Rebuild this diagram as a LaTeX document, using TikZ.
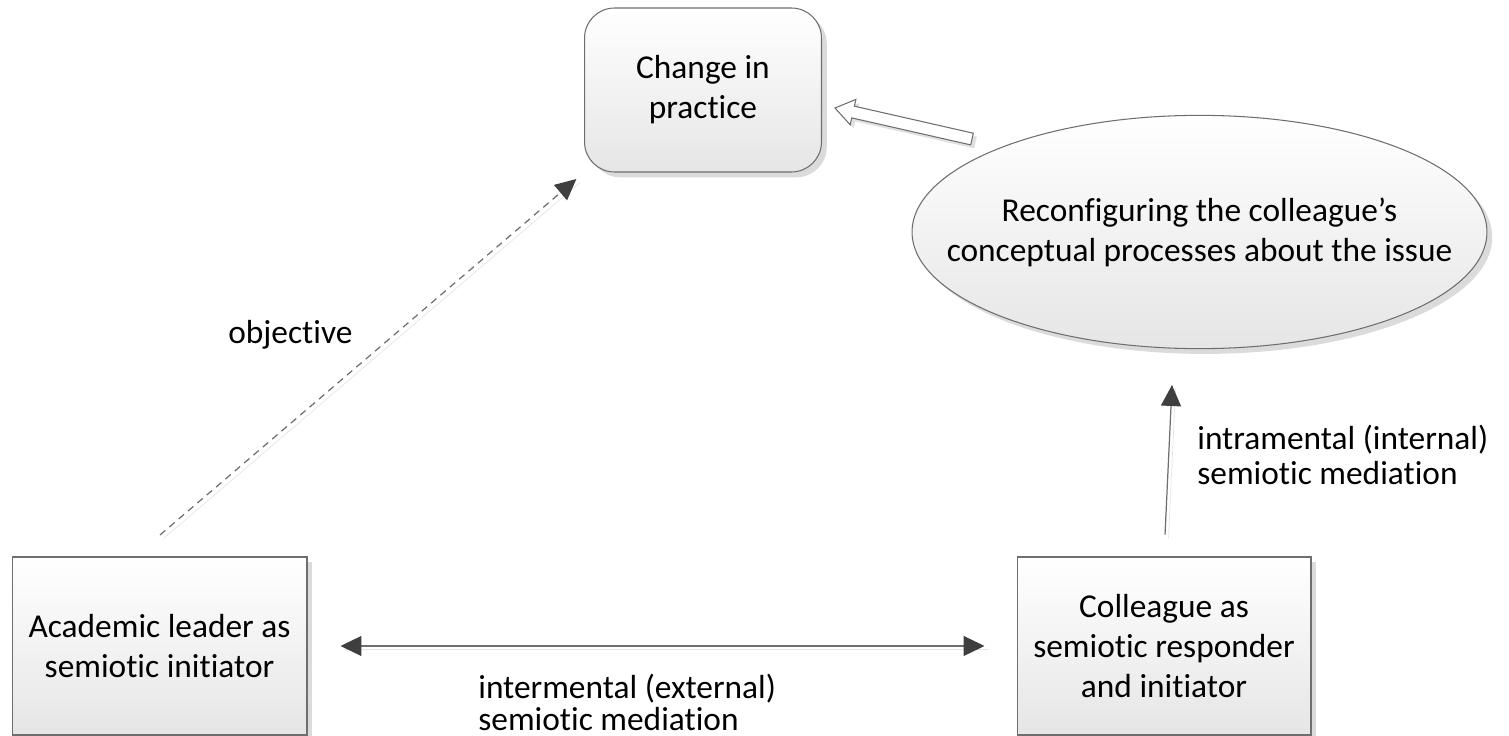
\documentclass[tikz,border=0pt]{standalone}
\usepackage{fontspec}
\setmainfont{Carlito}[Ligatures={TeX,NoCommon}]
\usetikzlibrary{arrows.meta, shapes.geometric, shadows}
\definecolor{edgegray}{HTML}{6E6E6E}
\definecolor{tipgray}{HTML}{3F3F3F}
\tikzset{
  box/.style={draw=edgegray, line width=0.6pt, top color=white, bottom color=black!10,
    align=center, inner sep=0pt,
    drop shadow={shadow xshift=3pt, shadow yshift=-3pt, fill=black!35, opacity=0.4}},
  link/.style={draw=edgegray, line width=0.7pt,
    preaction={draw=black!10, -, transform canvas={xshift=2pt, yshift=-2pt}}},
  lbl/.style={inner sep=0pt, align=left},
  >={Triangle[length=0.42cm, width=0.4cm, color=tipgray]}
}

\begin{document}
\begin{tikzpicture}[x=0.02cm, y=-0.02cm, font=\fontsize{19}{22.8}\selectfont]
  \useasboundingbox (0,0) rectangle (1509,736);

  \node[box, rounded corners=0.6cm, minimum width=4.74cm, minimum height=3.28cm] (change) at (703,90) {Change in\\practice};
  \node[box, ellipse, inner xsep=-0.99cm, inner ysep=0.96cm] (recon) at (1199.5,232) {Reconfiguring the colleague's\\conceptual processes about the issue};
  \node[box, minimum width=5.9cm, minimum height=3.56cm] (leader) at (159.5,646) {Academic leader as\\semiotic initiator};
  \node[box, minimum width=5.88cm, minimum height=3.56cm] (colleague) at (1164,646) {Colleague as\\semiotic responder\\and initiator};

  \coordinate (objstart) at (160,535);
  \coordinate (intratip) at (1172,385);

  \draw[link, ->, dash pattern=on 4pt off 3pt, shorten >=0.2cm] (objstart) -- (change.south west);
  \draw[link, <->, shorten <=0.66cm, shorten >=0.64cm] (leader.east) -- (colleague.west);
  \draw[link, ->, shorten <=0.44cm] (colleague.north) -- (intratip);

  % hollow arrow from the ellipse to the change box
  \draw[draw=edgegray, fill=white, line width=0.6pt,
    drop shadow={shadow xshift=2pt, shadow yshift=-2pt, fill=black!30, opacity=0.4}]
    (973.3,133.2) -- (854.4,106.2) -- (855.9,99.4) -- (835,108) -- (850.2,124.8)
    -- (851.7,117.9) -- (970.7,144.9) -- cycle;

  \node[lbl, anchor=west] (objlabel) at (228,335) {objective};
  \node[lbl, anchor=west, font=\fontsize{19}{18.2}\selectfont] (interlabel) at (478,702) {intermental (external)\\semiotic mediation};
  \node[lbl, anchor=west, font=\fontsize{19}{19.9}\selectfont] (intralabel) at (1197,455) {intramental (internal)\\semiotic mediation};
\end{tikzpicture}
\end{document}
